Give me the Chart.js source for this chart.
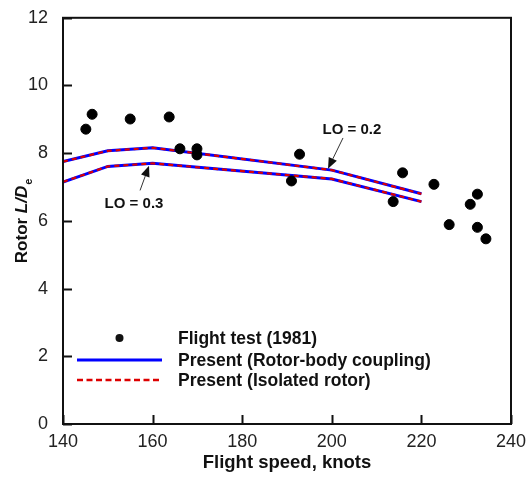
<!DOCTYPE html>
<html><head><meta charset="utf-8">
<script src="https://cdn.jsdelivr.net/npm/chart.js@4/dist/chart.umd.min.js"></script>
<style>html,body{margin:0;padding:0;background:#fff}canvas{display:block}</style>
</head><body>
<canvas id="c" width="526" height="477"></canvas>
<script>
// ---- data ----
const xTicks = [140, 160, 180, 200, 220, 240];
const yTicks = [0, 2, 4, 6, 8, 10, 12];
const testSpeed = [145.1, 146.5, 155.0, 163.7, 166.1, 169.9, 169.9, 191.0, 192.8, 213.7, 215.8, 222.8, 226.2, 230.9, 232.5, 232.5, 234.4];
const testLD    = [8.71, 9.15, 9.01, 9.07, 8.13, 8.13, 7.95, 7.18, 7.97, 6.57, 7.42, 7.08, 5.89, 6.49, 6.79, 5.81, 5.47];
const presentSpeed = [140, 150, 160, 200, 220];
const couplingLO02 = [7.75, 8.07, 8.16, 7.50, 6.80];
const couplingLO03 = [7.15, 7.61, 7.70, 7.24, 6.57];
const isolatedLO02 = [7.75, 8.07, 8.16, 7.50, 6.80];
const isolatedLO03 = [7.15, 7.61, 7.70, 7.24, 6.57];
const legendLabels = ['Flight test (1981)', 'Present (Rotor-body coupling)', 'Present (Isolated rotor)'];
const xTitle = 'Flight speed, knots';
const yTitleParts = ['Rotor ', 'L/D', 'e'];
const noteTexts = ['LO = 0.2', 'LO = 0.3'];

// annotation placement (data units)
const notePlacement = [
  {tx: 204.5, ty: 8.69, ax: 202.5, ay: 8.45, bx: 199.15, by: 7.54},
  {tx: 155.85, ty: 6.51, ax: 157.2, ay: 6.90, bx: 159.2, by: 7.63}
];

const FONT = "'Liberation Sans', Arial, sans-serif";
const pts = (xs, ys) => xs.map((x, i) => ({x: x, y: ys[i]}));

const framePlugin = {
  id: 'frame',
  afterDatasetsDraw(chart) {
    const {ctx, chartArea: a, scales} = chart;
    ctx.save();
    ctx.strokeStyle = '#111';
    ctx.lineWidth = 2;
    ctx.strokeRect(a.left, a.top, a.right - a.left, a.bottom - a.top);
    ctx.beginPath();
    xTicks.forEach(v => { const p = Math.round(scales.x.getPixelForValue(v)) + 0.5; ctx.moveTo(p, a.bottom); ctx.lineTo(p, a.bottom - 9); });
    yTicks.forEach(v => { const p = Math.round(scales.y.getPixelForValue(v)) + 0.5; ctx.moveTo(a.left, p); ctx.lineTo(a.left + 9, p); });
    ctx.stroke();

    // annotations
    ctx.fillStyle = '#111';
    ctx.strokeStyle = '#333';
    ctx.lineWidth = 1;
    ctx.font = 'bold 15px ' + FONT;
    ctx.textAlign = 'center';
    ctx.textBaseline = 'middle';
    notePlacement.forEach((n, i) => {
      const tx = scales.x.getPixelForValue(n.tx), ty = scales.y.getPixelForValue(n.ty);
      ctx.fillText(noteTexts[i], tx, ty);
      const ax = scales.x.getPixelForValue(n.ax), ay = scales.y.getPixelForValue(n.ay);
      const bx = scales.x.getPixelForValue(n.bx), by = scales.y.getPixelForValue(n.by);
      const ang = Math.atan2(by - ay, bx - ax);
      const hl = 11, hw = 4.5;
      const baseX = bx - hl * Math.cos(ang), baseY = by - hl * Math.sin(ang);
      ctx.beginPath(); ctx.moveTo(ax, ay); ctx.lineTo(baseX, baseY); ctx.stroke();
      ctx.beginPath();
      ctx.moveTo(bx, by);
      ctx.lineTo(baseX + hw * Math.sin(ang), baseY - hw * Math.cos(ang));
      ctx.lineTo(baseX - hw * Math.sin(ang), baseY + hw * Math.cos(ang));
      ctx.closePath(); ctx.fill();
    });

    // legend
    const lx0 = a.left + 14, lx1 = a.left + 99, tx = a.left + 115;
    const rows = [a.bottom - 86, a.bottom - 64, a.bottom - 44];
    ctx.font = 'bold 17.5px ' + FONT;
    ctx.textAlign = 'left';
    ctx.fillStyle = '#111';
    ctx.beginPath(); ctx.arc((lx0 + lx1) / 2, rows[0], 4, 0, Math.PI * 2); ctx.fill();
    ctx.lineWidth = 3; ctx.strokeStyle = '#0000ff'; ctx.setLineDash([]);
    ctx.beginPath(); ctx.moveTo(lx0, rows[1]); ctx.lineTo(lx1, rows[1]); ctx.stroke();
    ctx.lineWidth = 2.5; ctx.strokeStyle = '#dd0000'; ctx.setLineDash([6, 3.5]);
    ctx.beginPath(); ctx.moveTo(lx0, rows[2]); ctx.lineTo(lx1, rows[2]); ctx.stroke();
    ctx.setLineDash([]);
    legendLabels.forEach((t, i) => ctx.fillText(t, tx, rows[i] + 1));

    // y title
    ctx.save();
    ctx.translate(22, (a.top + a.bottom) / 2);
    ctx.rotate(-Math.PI / 2);
    ctx.textBaseline = 'middle';
    ctx.textAlign = 'left';
    const f1 = 'bold 17px ' + FONT, f2 = 'italic bold 17px ' + FONT, f3 = 'bold 11px ' + FONT;
    ctx.font = f1; const w1 = ctx.measureText(yTitleParts[0]).width;
    ctx.font = f2; const w2 = ctx.measureText(yTitleParts[1]).width;
    ctx.font = f3; const w3 = ctx.measureText(yTitleParts[2]).width;
    let x = -(w1 + w2 + w3 + 1) / 2;
    ctx.font = f1; ctx.fillText(yTitleParts[0], x, 0); x += w1;
    ctx.font = f2; ctx.fillText(yTitleParts[1], x, 0); x += w2 + 1;
    ctx.font = f3; ctx.fillText(yTitleParts[2], x, 7);
    ctx.restore();
    ctx.restore();
  }
};

new Chart(document.getElementById('c'), {
  type: 'scatter',
  data: {
    datasets: [
      {label: legendLabels[1] + ' LO=0.2', type: 'line', data: pts(presentSpeed, couplingLO02), borderColor: '#0000ff', borderWidth: 3, pointRadius: 0, tension: 0, fill: false, order: 4},
      {label: legendLabels[1] + ' LO=0.3', type: 'line', data: pts(presentSpeed, couplingLO03), borderColor: '#0000ff', borderWidth: 3, pointRadius: 0, tension: 0, fill: false, order: 3},
      {label: legendLabels[2] + ' LO=0.2', type: 'line', data: pts(presentSpeed, isolatedLO02), borderColor: '#dd0000', borderWidth: 2.2, borderDash: [5, 4], pointRadius: 0, tension: 0, fill: false, order: 2},
      {label: legendLabels[2] + ' LO=0.3', type: 'line', data: pts(presentSpeed, isolatedLO03), borderColor: '#dd0000', borderWidth: 2.2, borderDash: [5, 4], pointRadius: 0, tension: 0, fill: false, order: 1},
      {label: legendLabels[0], data: pts(testSpeed, testLD), backgroundColor: '#000', borderColor: '#000', pointRadius: 5, pointHoverRadius: 5, order: 0}
    ]
  },
  options: {
    responsive: false,
    animation: false,
    devicePixelRatio: 1,
    layout: {padding: {left: 0, right: 15, top: 15, bottom: 0}},
    plugins: {legend: {display: false}, tooltip: {enabled: false}},
    scales: {
      x: {
        type: 'linear', min: 140, max: 240,
        afterBuildTicks: s => { s.ticks = xTicks.map(v => ({value: v})); },
        ticks: {font: {family: FONT, size: 18}, color: '#222', padding: -1, maxRotation: 0},
        grid: {display: false}, border: {display: false},
        title: {display: true, text: xTitle, font: {family: FONT, size: 18.5, weight: 'bold'}, color: '#111', padding: {top: 0, bottom: 3}},
        afterFit: s => { s.height = 53; }
      },
      y: {
        type: 'linear', min: 0, max: 12,
        afterBuildTicks: s => { s.ticks = yTicks.map(v => ({value: v})); },
        ticks: {font: {family: FONT, size: 18}, color: '#222', padding: 7},
        grid: {display: false}, border: {display: false},
        afterFit: s => { s.width = 63; }
      }
    }
  },
  plugins: [framePlugin]
});
</script>
</body></html>
